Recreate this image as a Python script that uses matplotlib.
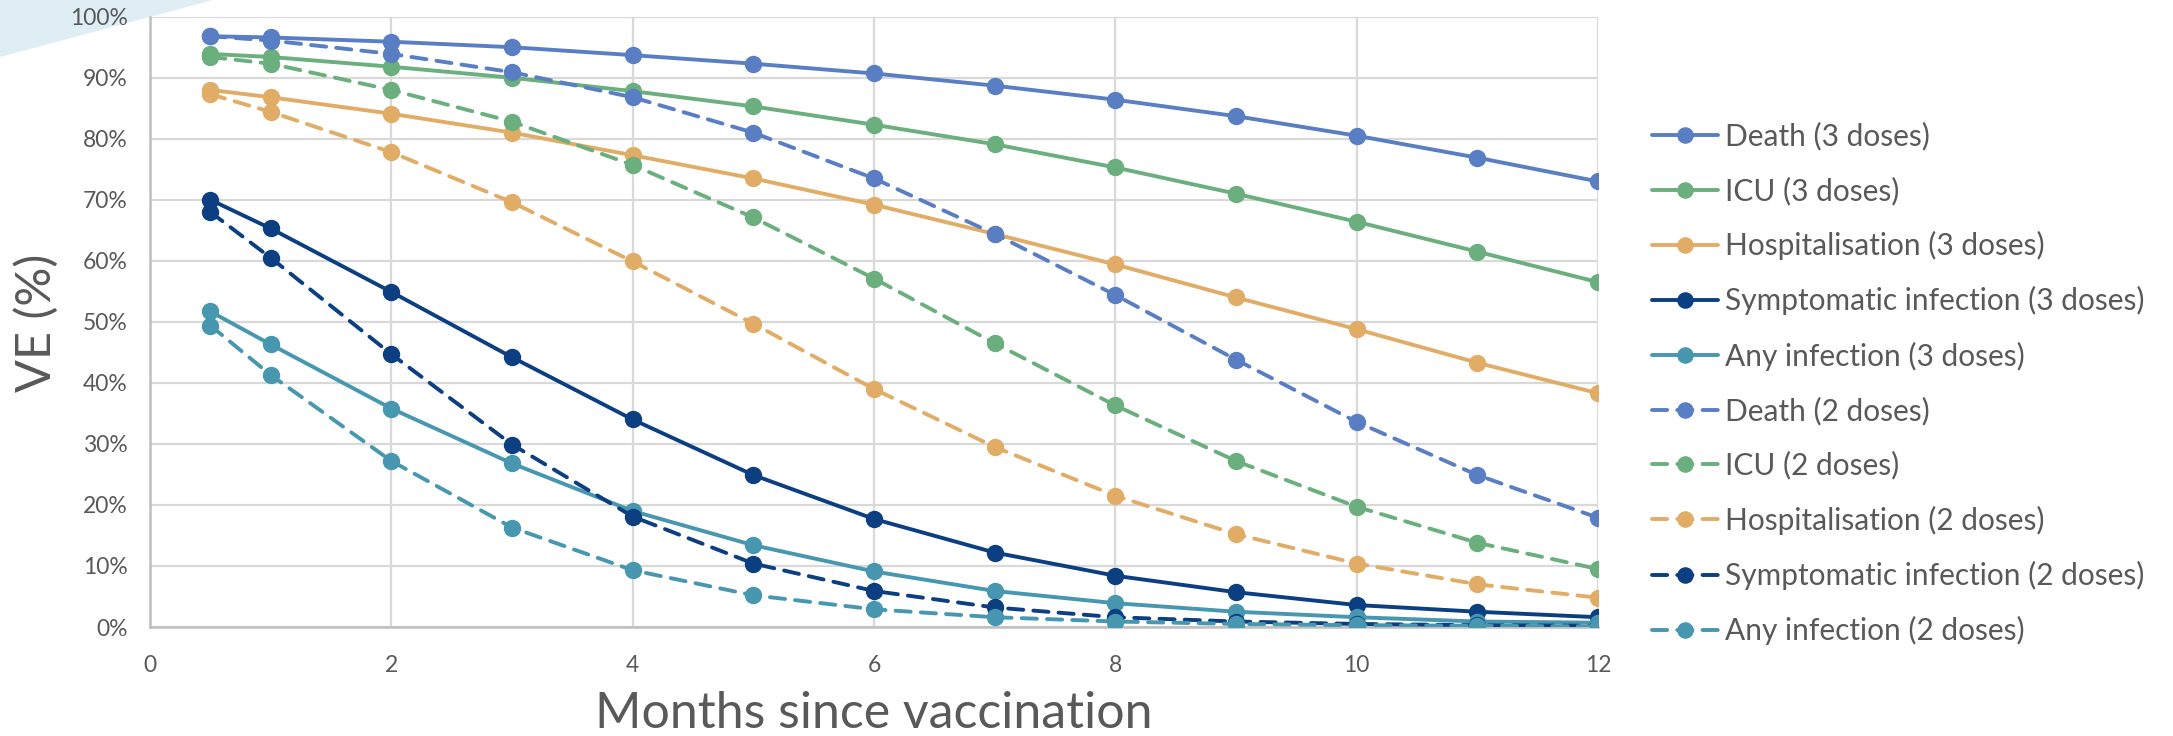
import matplotlib
matplotlib.use("Agg")
import matplotlib.pyplot as plt
from matplotlib.patches import Polygon
from matplotlib.ticker import FuncFormatter, MultipleLocator

months = [0.5, 1, 2, 3, 4, 5, 6, 7, 8, 9, 10, 11, 12]

death_3 = [96.8, 96.6, 95.9, 95.0, 93.7, 92.3, 90.7, 88.7, 86.4, 83.7, 80.5, 76.9, 73.0]
icu_3 = [93.9, 93.4, 91.8, 90.0, 87.8, 85.3, 82.3, 79.1, 75.3, 71.0, 66.4, 61.5, 56.5]
hosp_3 = [88.0, 86.8, 84.1, 81.0, 77.3, 73.5, 69.2, 64.4, 59.4, 54.0, 48.8, 43.3, 38.3]
symp_3 = [70.0, 65.3, 54.9, 44.2, 34.0, 24.9, 17.7, 12.2, 8.4, 5.7, 3.6, 2.5, 1.6]
any_3 = [51.7, 46.3, 35.8, 26.8, 19.0, 13.4, 9.1, 5.9, 3.9, 2.5, 1.6, 0.9, 0.7]

death_2 = [96.8, 96.1, 93.9, 90.9, 86.8, 81.0, 73.5, 64.4, 54.4, 43.8, 33.6, 24.9, 17.9]
icu_2 = [93.4, 92.3, 88.0, 82.8, 75.7, 67.1, 57.1, 46.5, 36.3, 27.2, 19.7, 13.8, 9.5]
hosp_2 = [87.3, 84.4, 77.8, 69.6, 59.9, 49.7, 39.0, 29.5, 21.5, 15.2, 10.4, 7.0, 4.8]
symp_2 = [68.0, 60.5, 44.7, 29.9, 18.1, 10.4, 5.9, 3.2, 1.6, 0.9, 0.5, 0.3, 0.2]
any_2 = [49.4, 41.3, 27.2, 16.3, 9.3, 5.2, 2.9, 1.6, 0.9, 0.5, 0.3, 0.2, 0.1]

outcomes = ["Death", "ICU", "Hospitalisation", "Symptomatic infection", "Any infection"]
colors = ["#5a7ec4", "#6aaf7d", "#e1ad66", "#0b3f82", "#4697af"]
series_3 = [death_3, icu_3, hosp_3, symp_3, any_3]
series_2 = [death_2, icu_2, hosp_2, symp_2, any_2]

plt.rcParams['font.family'] = ['Lato', 'DejaVu Sans']

fig = plt.figure(figsize=(21.73, 7.36), dpi=100)
ax = fig.add_axes([150/2173, 1-627/736, (1598-150)/2173, (627-16.7)/736])

# decorative corner shape
fig.patches.append(Polygon([(0, 1), (213/2173, 1), (0, 1-57/736)], closed=True,
                           transform=fig.transFigure, facecolor="#deeef4",
                           edgecolor="none", zorder=-5))

for name, c, ys in zip(outcomes, colors, series_3):
    ax.plot(months, ys, color=c, lw=2.8, marker='o', ms=11.5,
            label=f"{name} (3 doses)", solid_capstyle='round', zorder=3)
for name, c, ys in zip(outcomes, colors, series_2):
    ax.plot(months, ys, color=c, lw=2.8, marker='o', ms=11.5, dashes=(3.9, 2.6),
            label=f"{name} (2 doses)", dash_capstyle='round', zorder=3)

ax.set_xlim(0, 12)
ax.set_ylim(0, 100)
ax.xaxis.set_major_locator(MultipleLocator(2))
ax.yaxis.set_major_locator(MultipleLocator(10))
ax.yaxis.set_major_formatter(FuncFormatter(lambda v, p: f"{int(v)}%"))
ax.grid(True, color="#d9d9d9", lw=1.6, zorder=0)
ax.set_axisbelow(True)
for s in ["top", "right"]:
    ax.spines[s].set_visible(False)
for s in ["left", "bottom"]:
    ax.spines[s].set_color("#bfbfbf")
    ax.spines[s].set_linewidth(1.8)
ax.tick_params(axis='both', length=0, labelsize=16.5, colors="#595959")
ax.tick_params(axis='x', pad=20)
ax.tick_params(axis='y', pad=16)

fig.text(36/2173, 1-323/736, "VE (%)", rotation=90, ha='center', va='center',
         fontsize=35, color="#595959")
fig.text(874/2173, 8/736, "Months since vaccination", ha='center', va='baseline',
         fontsize=36, color="#595959")

leg = ax.legend(loc='upper left', bbox_to_anchor=(1640/2173, 1-110/736),
                bbox_transform=fig.transFigure, frameon=False, fontsize=21.5,
                handlelength=2.2, handletextpad=0.25, labelspacing=0.87,
                markerscale=0.95, labelcolor="#595959", borderaxespad=0)

fig.savefig("out.png", dpi=100)
